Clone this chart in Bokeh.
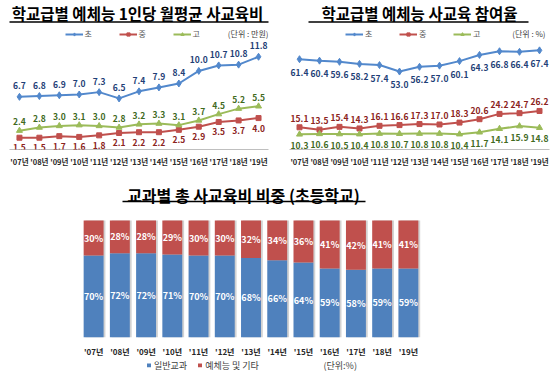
from bokeh.plotting import figure
from bokeh.models import (ColumnDataSource, Range1d, FactorRange, Label, LabelSet,
                          Legend, LegendItem)
from bokeh.layouts import column, row
from bokeh.embed import file_html
from bokeh.resources import INLINE
from bokeh.core.properties import value
from bokeh.transform import dodge

# ---------------- data ----------------
years = ["'07년", "'08년", "'09년", "'10년", "'11년", "'12년", "'13년",
         "'14년", "'15년", "'16년", "'17년", "'18년", "'19년"]

# 학교급별 예체능 1인당 월평균 사교육비 (만원)
spend_elem = [6.7, 6.8, 6.9, 7.0, 7.3, 6.5, 7.4, 7.9, 8.4, 10.0, 10.7, 10.8, 11.8]
spend_mid = [1.5, 1.5, 1.7, 1.6, 1.8, 2.1, 2.2, 2.2, 2.5, 2.9, 3.5, 3.7, 4.0]
spend_high = [2.4, 2.8, 3.0, 3.1, 3.0, 2.8, 3.2, 3.3, 3.1, 3.7, 4.5, 5.2, 5.5]

# 학교급별 예체능 사교육 참여율 (%)
part_elem = [61.4, 60.4, 59.6, 58.2, 57.4, 53.0, 56.2, 57.0, 60.1, 64.3, 66.8, 66.4, 67.4]
part_mid = [15.1, 13.5, 15.4, 14.3, 16.1, 16.6, 17.3, 17.0, 18.3, 20.6, 24.2, 24.7, 26.2]
part_high = [10.3, 10.6, 10.5, 10.4, 10.8, 10.7, 10.8, 10.8, 10.4, 11.7, 14.1, 15.9, 14.8]

# 교과별 총 사교육비 비중 (초등학교, %)
share_general = [70, 72, 72, 71, 70, 70, 68, 66, 64, 59, 58, 59, 59]
share_arts = [30, 28, 28, 29, 30, 30, 32, 34, 36, 41, 42, 41, 41]

series_names = ["초", "중", "고"]
share_names = ["일반교과", "예체능 및 기타"]
share_unit = "(단위:%)"

FONT = "Noto Sans CJK KR"
BLUE, RED, GREEN = "#5288CC", "#C0504D", "#9BBB59"
BAR_BLUE, BAR_RED = "#4F81BD", "#C0504D"
BLUE_T, RED_T, GREEN_T = "#1F3F77", "#8B2320", "#3F6A1E"

TOP_FH = 149


def px_to_x(px, fw, n):
    return px / fw * n


def px_to_y(px_from_top, fh, ymax):
    return ymax * (1 - px_from_top / fh)


def style_axis(ax, standoff, size):
    ax.axis_line_color = "#BFBFBF"
    ax.major_tick_line_color = None
    ax.minor_tick_line_color = None
    ax.major_tick_out = 0
    ax.major_tick_in = 0
    ax.major_label_text_font = FONT
    ax.major_label_text_font_size = size
    ax.major_label_text_font_style = "bold"
    ax.major_label_text_color = "#262626"
    ax.major_label_standoff = standoff


def line_chart(title, unit, data, ymax, offsets, borders, fw, title_cx, ul, unit_x):
    p = figure(frame_width=fw, frame_height=TOP_FH, x_range=FactorRange(*years),
               y_range=Range1d(0, ymax), output_backend="svg", toolbar_location=None,
               min_border_left=borders[0], min_border_right=borders[1],
               min_border_top=0, min_border_bottom=16)
    p.outline_line_color = None
    p.xgrid.grid_line_color = None
    p.ygrid.grid_line_color = None
    p.yaxis.visible = False
    style_axis(p.xaxis[0], 6, "7.5px")

    colors = [BLUE, RED, GREEN]
    tcolors = [BLUE_T, RED_T, GREEN_T]
    markers = ["diamond", "square", "triangle"]
    msizes = [7, 5, 6]
    items = []
    for vals, c, tc, m, ms, off, name in zip(data, colors, tcolors, markers, msizes,
                                              offsets, series_names):
        src = ColumnDataSource(dict(x=years, y=vals, t=["%.1f" % v for v in vals]))
        lr = p.line("x", "y", source=src, line_color=c, line_width=2)
        sr = p.scatter("x", "y", source=src, marker=m, size=ms, fill_color=c,
                       line_color=c)
        items.append(LegendItem(label=name, renderers=[lr, sr]))
        p.add_layout(LabelSet(x="x", y="y", text="t", source=src, y_offset=off,
                              text_align="center", text_baseline="middle",
                              text_font=value(FONT), text_font_size="8.5px",
                              text_font_style="bold", text_color=tc))

    leg = Legend(items=items, orientation="horizontal", location="top_center",
                 border_line_color=None, background_fill_alpha=0,
                 label_text_font=FONT, label_text_font_size="8px",
                 label_text_color="#595959", glyph_width=18, glyph_height=8,
                 label_height=10, label_standoff=2, spacing=14, margin=28, padding=0)
    p.add_layout(leg)

    p.add_layout(Label(x=title_cx, y=TOP_FH - 12, x_units="screen", y_units="screen",
                       text=title, text_align="center", text_baseline="middle",
                       text_font=FONT, text_font_size="15.5px",
                       text_font_style="bold", text_color="#000000"))
    # title underline (decoration, positioned in pixels)
    uy = px_to_y(21.5, TOP_FH, ymax)
    n = len(years)
    p.line(x=[px_to_x(ul[0], fw, n), px_to_x(ul[1], fw, n)], y=[uy, uy],
           line_color="#000000", line_width=1.6)
    p.add_layout(Label(x=unit_x, y=TOP_FH - 33, x_units="screen", y_units="screen",
                       text=unit, text_align="right", text_baseline="middle",
                       text_font=FONT, text_font_size="8px", text_color="#404040"))
    return p


p1 = line_chart("학교급별 예체능 1인당 월평균 사교육비", "(단위 : 만원)",
                [spend_elem, spend_mid, spend_high], 18.96, [11, -10, 9],
                (9, 7), 259, 128, (-7, 263), 259)
p2 = line_chart("학교급별 예체능 사교육 참여율", "(단위 : %)",
                [part_elem, part_mid, part_high], 101.3, [-13, 9, -11],
                (14, 1), 260, 130, (19, 239), 256)

# ---------------- bottom stacked bars ----------------
BOT_FW, BOT_FH = 341, 165
BOT_YMAX = BOT_FH / 1.17
BOT_L, BOT_R = 80, 129

src3 = ColumnDataSource(dict(
    x=years, general=share_general, arts=share_arts,
    total=[g + a for g, a in zip(share_general, share_arts)],
    gy=[g / 2 for g in share_general],
    ay=[g + a / 2 for g, a in zip(share_general, share_arts)],
    gt=["%d%%" % g for g in share_general],
    at=["%d%%" % a for a in share_arts],
))

p3 = figure(frame_width=BOT_FW, frame_height=BOT_FH, x_range=FactorRange(*years),
            y_range=Range1d(0, BOT_YMAX), output_backend="svg", toolbar_location=None,
            min_border_left=BOT_L, min_border_right=BOT_R, min_border_top=3,
            min_border_bottom=14)
p3.outline_line_color = None
p3.xgrid.grid_line_color = None
p3.ygrid.grid_line_color = None
p3.yaxis.visible = False
style_axis(p3.xaxis[0], 8, "8px")
p3.xaxis[0].axis_line_color = None

p3.vbar(x=dodge("x", 0.07, range=p3.x_range), top="total", bottom=-1.0, width=0.76,
        source=src3, fill_color="#A6A6A6", fill_alpha=0.5, line_color=None)
p3.vbar_stack(["general", "arts"], x="x", width=0.76, color=[BAR_BLUE, BAR_RED],
              source=src3, line_color=None)

for col_y, col_t in (("gy", "gt"), ("ay", "at")):
    p3.add_layout(LabelSet(x="x", y=col_y, text=col_t, source=src3,
                           text_align="center", text_baseline="middle",
                           text_font=value(FONT), text_font_size="9px",
                           text_font_style="bold", text_color="white"))

p3.add_layout(Label(x=163, y=BOT_FH - 22, x_units="screen", y_units="screen",
                    text="교과별 총 사교육비 비중 (초등학교)",
                    text_align="center", text_baseline="middle",
                    text_font=FONT, text_font_size="16px",
                    text_font_style="bold", text_color="#000000"))
uy3 = px_to_y(29, BOT_FH, BOT_YMAX)
p3.line(x=[px_to_x(42, BOT_FW, len(years)), px_to_x(285, BOT_FW, len(years))],
        y=[uy3, uy3], line_color="#000000", line_width=1.6)

# ---------------- legend strip for the bar chart ----------------
p4 = figure(frame_width=BOT_FW, frame_height=12, x_range=Range1d(0, 1),
            y_range=Range1d(0, 1), output_backend="svg", toolbar_location=None,
            x_axis_type=None, y_axis_type=None, min_border_left=BOT_L,
            min_border_right=BOT_R, min_border_top=0, min_border_bottom=0)
p4.outline_line_color = None
p4.xgrid.grid_line_color = None
p4.ygrid.grid_line_color = None
# legend keys only (zero-height, invisible bars)
key_r = [p4.vbar(x=[0.5], top=[0], bottom=[0], width=0.001, fill_color=c,
                 line_color=None) for c in (BAR_BLUE, BAR_RED)]
leg4 = Legend(items=[LegendItem(label=n, renderers=[r])
                     for n, r in zip(share_names, key_r)],
              orientation="horizontal", location="center_left",
              border_line_color=None, background_fill_alpha=0,
              label_text_font=FONT, label_text_font_size="9px",
              label_text_color="#404040", glyph_width=5, glyph_height=5,
              label_height=11, label_standoff=3, spacing=10, margin=66,
              padding=0)
p4.add_layout(leg4)
p4.add_layout(Label(x=323 - BOT_L, y=6, x_units="screen", y_units="screen",
                    text=share_unit, text_align="left", text_baseline="middle",
                    text_font=FONT, text_font_size="9px", text_color="#404040"))

layout = column(row(p1, p2), p3, p4)
open("out.html", "w").write(file_html(layout, INLINE))
